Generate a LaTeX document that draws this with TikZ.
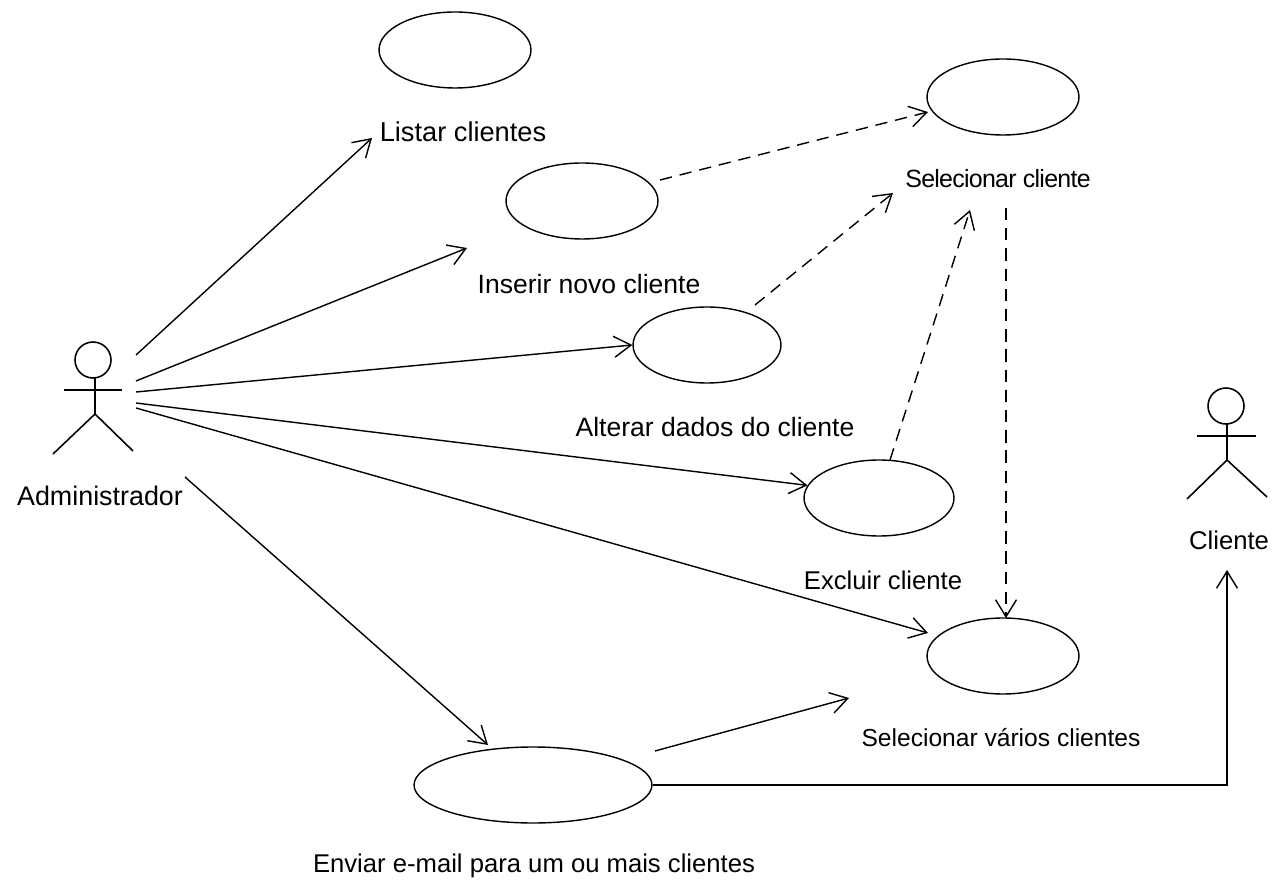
\documentclass[tikz,border=0pt]{standalone}
\usepackage{fontspec}
\setmainfont{Liberation Sans}
\usetikzlibrary{shapes.geometric,arrows.meta}
\tikzset{
  usecase/.style={draw, ellipse, inner sep=0pt, minimum width=3.04cm, minimum height=1.52cm, line width=0.8pt},
  txt/.style={inner sep=0pt, font=\fontsize{#1}{16pt}\selectfont},
  txt/.default=14.6pt,
  assoc/.style={line width=0.8pt, -{Straight Barb[length=0.34cm,width=0.42cm,line width=0.8pt]}},
  dep/.style={assoc, dash pattern=on 7pt off 4.5pt},
  stick/.style={line width=0.9pt}
}
\begin{document}
\begin{tikzpicture}[x=0.02cm,y=-0.02cm]
\useasboundingbox (0,0) rectangle (1274,884);
\node[usecase] (listar) at (455,50) {};
\node[usecase] (selecionar) at (1003,97) {};
\node[usecase] (inserir) at (582,201) {};
\node[usecase, minimum width=2.96cm] (alterar) at (707,345) {};
\node[usecase, minimum width=3cm] (excluir) at (879,498) {};
\node[usecase] (varios) at (1003,656) {};
\node[usecase, minimum width=4.76cm] (enviar) at (533,785) {};
\node[txt=15.5pt] (tlistar) at (463,132) {Listar clientes};
\node[txt=14.2pt] (tselecionar) at (998,179) {\addfontfeature{LetterSpace=-2.9}Selecionar cliente};
\node[txt=15.1pt] (tinserir) at (589,284) {Inserir novo cliente};
\node[txt=15.1pt] (talterar) at (715,427) {Alterar dados do cliente};
\node[txt] (texcluir) at (883,580) {Excluir cliente};
\node[txt=14pt] (tvarios) at (1001,738) {Selecionar vários clientes};
\node[txt] (tenviar) at (534,866) {Enviar e-mail para um ou mais clientes};
\node[txt=15.3pt] (tadm) at (100,496) {Administrador};
\node[txt] (tcli) at (1229,540) {Cliente};
\node[draw, circle, stick, inner sep=0pt, minimum size=0.72cm] (admhead) at (93,360) {};
\draw[stick] (95,378) -- (95,414);
\draw[stick] (64,390) -- (122,390);
\draw[stick] (53,454) -- (95,414) -- (133,451);
\node[draw, circle, stick, inner sep=0pt, minimum size=0.72cm] (clihead) at (1226,406) {};
\draw[stick] (1227,423) -- (1227,460);
\draw[stick] (1197,436) -- (1256,436);
\draw[stick] (1187,499) -- (1227,460) -- (1267,497);
\coordinate (adm1) at (136,355);
\coordinate (adm2) at (136,381);
\coordinate (adm3) at (136,392);
\coordinate (adm4) at (136,403);
\coordinate (adm5) at (136,408);
\coordinate (adm6) at (185,477);
\coordinate (endlistar) at (372,138);
\coordinate (endinserir) at (467,248);
\coordinate (endvarios) at (849,698);
\coordinate (startvarios) at (655,751);
\coordinate (endadmvarios) at (928,633);
\coordinate (endenviar) at (488,745);
\coordinate (startins) at (660,180);
\coordinate (endins) at (928,112);
\coordinate (startalt) at (755,305);
\coordinate (endalt) at (893,193);
\coordinate (startexc) at (890,460);
\coordinate (endexc) at (970,210);
\coordinate (startsel) at (1006,208);
\coordinate (endsel) at (1006,618);
\coordinate (endcli) at (1227,570);
\path[draw,assoc] (adm1) -- (endlistar);
\path[draw,assoc] (adm2) -- (endinserir);
\path[draw,assoc] (adm3) -- (alterar.west);
\path[draw,assoc] (adm4) -- (excluir.170);
\path[draw,assoc] (adm5) -- (endadmvarios);
\path[draw,assoc] (adm6) -- (endenviar);
\path[draw,assoc] (startvarios) -- (endvarios);
\path[draw,assoc] (enviar.east) -| (endcli);
\path[draw,dep] (startins) -- (endins);
\path[draw,dep] (startalt) -- (endalt);
\path[draw,dep] (startexc) -- (endexc);
\path[draw,dep] (startsel) -- (endsel);
\end{tikzpicture}
\end{document}
